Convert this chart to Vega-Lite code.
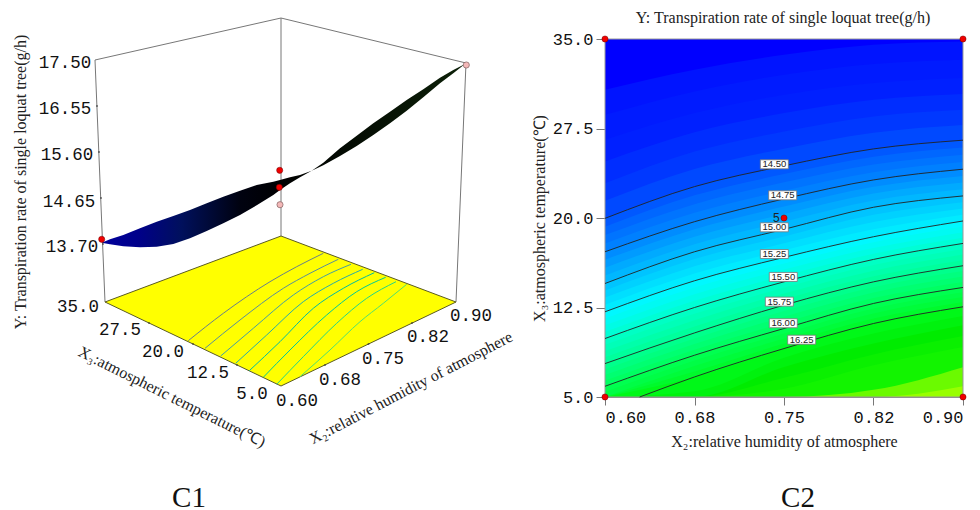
{"$schema":"https://vega.github.io/schema/vega-lite/v6.json","width":980,"height":510,"autosize":{"type":"none"},"padding":0,"background":"white","config":{"view":{"stroke":null}},
"datasets":{"levels":[
{"l":13.5,"x":0.6,"t":35},{"l":13.5,"x":0.675,"t":35},{"l":13.5,"x":0.75,"t":35},{"l":13.5,"x":0.825,"t":35},{"l":13.5,"x":0.9,"t":35},
{"l":13.75,"x":0.6,"t":30.75},{"l":13.75,"x":0.675,"t":32.43},{"l":13.75,"x":0.75,"t":33.68},{"l":13.75,"x":0.825,"t":34.52},{"l":13.75,"x":0.9,"t":34.8},
{"l":13.875,"x":0.6,"t":28.65},{"l":13.875,"x":0.675,"t":30.61},{"l":13.875,"x":0.75,"t":32},{"l":13.875,"x":0.825,"t":32.91},{"l":13.875,"x":0.9,"t":33.27},
{"l":14,"x":0.6,"t":26.55},{"l":14,"x":0.675,"t":28.79},{"l":14,"x":0.75,"t":30.33},{"l":14,"x":0.825,"t":31.31},{"l":14,"x":0.9,"t":31.73},
{"l":14.125,"x":0.6,"t":24.73},{"l":14.125,"x":0.675,"t":27.18},{"l":14.125,"x":0.75,"t":28.79},{"l":14.125,"x":0.825,"t":29.91},{"l":14.125,"x":0.9,"t":30.4},
{"l":14.25,"x":0.6,"t":22.91},{"l":14.25,"x":0.675,"t":25.57},{"l":14.25,"x":0.75,"t":27.25},{"l":14.25,"x":0.825,"t":28.51},{"l":14.25,"x":0.9,"t":29.07},
{"l":14.375,"x":0.6,"t":21.44},{"l":14.375,"x":0.675,"t":24.1},{"l":14.375,"x":0.75,"t":25.81},{"l":14.375,"x":0.825,"t":27.15},{"l":14.375,"x":0.9,"t":27.8},
{"l":14.5,"x":0.6,"t":19.97},{"l":14.5,"x":0.675,"t":22.63},{"l":14.5,"x":0.75,"t":24.37},{"l":14.5,"x":0.825,"t":25.79},{"l":14.5,"x":0.9,"t":26.52},
{"l":14.5625,"x":0.6,"t":19.27},{"l":14.5625,"x":0.675,"t":21.9},{"l":14.5625,"x":0.75,"t":23.68},{"l":14.5625,"x":0.825,"t":25.14},{"l":14.5625,"x":0.9,"t":25.91},
{"l":14.625,"x":0.6,"t":18.57},{"l":14.625,"x":0.675,"t":21.16},{"l":14.625,"x":0.75,"t":22.99},{"l":14.625,"x":0.825,"t":24.49},{"l":14.625,"x":0.9,"t":25.31},
{"l":14.6875,"x":0.6,"t":17.87},{"l":14.6875,"x":0.675,"t":20.43},{"l":14.6875,"x":0.75,"t":22.29},{"l":14.6875,"x":0.825,"t":23.84},{"l":14.6875,"x":0.9,"t":24.7},
{"l":14.75,"x":0.6,"t":17.17},{"l":14.75,"x":0.675,"t":19.69},{"l":14.75,"x":0.75,"t":21.6},{"l":14.75,"x":0.825,"t":23.19},{"l":14.75,"x":0.9,"t":24.09},
{"l":14.8125,"x":0.6,"t":16.51},{"l":14.8125,"x":0.675,"t":19.06},{"l":14.8125,"x":0.75,"t":20.96},{"l":14.8125,"x":0.825,"t":22.62},{"l":14.8125,"x":0.9,"t":23.53},
{"l":14.875,"x":0.6,"t":15.84},{"l":14.875,"x":0.675,"t":18.43},{"l":14.875,"x":0.75,"t":20.33},{"l":14.875,"x":0.825,"t":22.05},{"l":14.875,"x":0.9,"t":22.97},
{"l":14.9375,"x":0.6,"t":15.18},{"l":14.9375,"x":0.675,"t":17.8},{"l":14.9375,"x":0.75,"t":19.69},{"l":14.9375,"x":0.825,"t":21.47},{"l":14.9375,"x":0.9,"t":22.41},
{"l":15,"x":0.6,"t":14.51},{"l":15,"x":0.675,"t":17.17},{"l":15,"x":0.75,"t":19.05},{"l":15,"x":0.825,"t":20.9},{"l":15,"x":0.9,"t":21.85},
{"l":15.0625,"x":0.6,"t":13.92},{"l":15.0625,"x":0.675,"t":16.56},{"l":15.0625,"x":0.75,"t":18.46},{"l":15.0625,"x":0.825,"t":20.28},{"l":15.0625,"x":0.9,"t":21.33},
{"l":15.125,"x":0.6,"t":13.33},{"l":15.125,"x":0.675,"t":15.96},{"l":15.125,"x":0.75,"t":17.88},{"l":15.125,"x":0.825,"t":19.67},{"l":15.125,"x":0.9,"t":20.8},
{"l":15.1875,"x":0.6,"t":12.73},{"l":15.1875,"x":0.675,"t":15.35},{"l":15.1875,"x":0.75,"t":17.29},{"l":15.1875,"x":0.825,"t":19.05},{"l":15.1875,"x":0.9,"t":20.28},
{"l":15.25,"x":0.6,"t":12.14},{"l":15.25,"x":0.675,"t":14.74},{"l":15.25,"x":0.75,"t":16.7},{"l":15.25,"x":0.825,"t":18.43},{"l":15.25,"x":0.9,"t":19.75},
{"l":15.3125,"x":0.6,"t":11.58},{"l":15.3125,"x":0.675,"t":14.18},{"l":15.3125,"x":0.75,"t":16.19},{"l":15.3125,"x":0.825,"t":17.96},{"l":15.3125,"x":0.9,"t":19.28},
{"l":15.375,"x":0.6,"t":11.02},{"l":15.375,"x":0.675,"t":13.62},{"l":15.375,"x":0.75,"t":15.68},{"l":15.375,"x":0.825,"t":17.48},{"l":15.375,"x":0.9,"t":18.81},
{"l":15.4375,"x":0.6,"t":10.46},{"l":15.4375,"x":0.675,"t":13.06},{"l":15.4375,"x":0.75,"t":15.16},{"l":15.4375,"x":0.825,"t":17.01},{"l":15.4375,"x":0.9,"t":18.34},
{"l":15.5,"x":0.6,"t":9.9},{"l":15.5,"x":0.675,"t":12.5},{"l":15.5,"x":0.75,"t":14.65},{"l":15.5,"x":0.825,"t":16.53},{"l":15.5,"x":0.9,"t":17.87},
{"l":15.5625,"x":0.6,"t":9.38},{"l":15.5625,"x":0.675,"t":11.97},{"l":15.5625,"x":0.75,"t":14.16},{"l":15.5625,"x":0.825,"t":16.06},{"l":15.5625,"x":0.9,"t":17.4},
{"l":15.625,"x":0.6,"t":8.85},{"l":15.625,"x":0.675,"t":11.44},{"l":15.625,"x":0.75,"t":13.68},{"l":15.625,"x":0.825,"t":15.59},{"l":15.625,"x":0.9,"t":16.94},
{"l":15.6875,"x":0.6,"t":8.33},{"l":15.6875,"x":0.675,"t":10.9},{"l":15.6875,"x":0.75,"t":13.19},{"l":15.6875,"x":0.825,"t":15.12},{"l":15.6875,"x":0.9,"t":16.47},
{"l":15.75,"x":0.6,"t":7.8},{"l":15.75,"x":0.675,"t":10.37},{"l":15.75,"x":0.75,"t":12.7},{"l":15.75,"x":0.825,"t":14.65},{"l":15.75,"x":0.9,"t":16},
{"l":15.8125,"x":0.6,"t":7.33},{"l":15.8125,"x":0.675,"t":9.9},{"l":15.8125,"x":0.75,"t":12.21},{"l":15.8125,"x":0.825,"t":14.2},{"l":15.8125,"x":0.9,"t":15.55},
{"l":15.875,"x":0.6,"t":6.85},{"l":15.875,"x":0.675,"t":9.44},{"l":15.875,"x":0.75,"t":11.72},{"l":15.875,"x":0.825,"t":13.75},{"l":15.875,"x":0.9,"t":15.09},
{"l":15.9375,"x":0.6,"t":6.38},{"l":15.9375,"x":0.675,"t":8.97},{"l":15.9375,"x":0.75,"t":11.23},{"l":15.9375,"x":0.825,"t":13.29},{"l":15.9375,"x":0.9,"t":14.64},
{"l":16,"x":0.6,"t":5.9},{"l":16,"x":0.675,"t":8.5},{"l":16,"x":0.75,"t":10.74},{"l":16,"x":0.825,"t":12.84},{"l":16,"x":0.9,"t":14.18},
{"l":16.0625,"x":0.6,"t":5.43},{"l":16.0625,"x":0.675,"t":8.05},{"l":16.0625,"x":0.75,"t":10.32},{"l":16.0625,"x":0.825,"t":12.42},{"l":16.0625,"x":0.9,"t":13.78},
{"l":16.125,"x":0.6,"t":4.95},{"l":16.125,"x":0.675,"t":7.59},{"l":16.125,"x":0.75,"t":9.9},{"l":16.125,"x":0.825,"t":12},{"l":16.125,"x":0.9,"t":13.37},
{"l":16.1875,"x":0.6,"t":4.48},{"l":16.1875,"x":0.675,"t":7.14},{"l":16.1875,"x":0.75,"t":9.48},{"l":16.1875,"x":0.825,"t":11.58},{"l":16.1875,"x":0.9,"t":12.97},
{"l":16.25,"x":0.6,"t":4},{"l":16.25,"x":0.675,"t":6.68},{"l":16.25,"x":0.75,"t":9.06},{"l":16.25,"x":0.825,"t":11.16},{"l":16.25,"x":0.9,"t":12.56},
{"l":16.375,"x":0.6,"t":3.5},{"l":16.375,"x":0.675,"t":5.49},{"l":16.375,"x":0.75,"t":8.29},{"l":16.375,"x":0.825,"t":10.32},{"l":16.375,"x":0.9,"t":11.79},
{"l":16.5,"x":0.6,"t":3},{"l":16.5,"x":0.675,"t":4.3},{"l":16.5,"x":0.75,"t":7.52},{"l":16.5,"x":0.825,"t":9.48},{"l":16.5,"x":0.9,"t":11.02},
{"l":16.625,"x":0.6,"t":2.5},{"l":16.625,"x":0.675,"t":3.5},{"l":16.625,"x":0.75,"t":6.61},{"l":16.625,"x":0.825,"t":8.57},{"l":16.625,"x":0.9,"t":10.11},
{"l":16.75,"x":0.6,"t":2},{"l":16.75,"x":0.675,"t":3},{"l":16.75,"x":0.75,"t":5.7},{"l":16.75,"x":0.825,"t":7.66},{"l":16.75,"x":0.9,"t":9.2},
{"l":16.85,"x":0.6,"t":1},{"l":16.85,"x":0.675,"t":2},{"l":16.85,"x":0.75,"t":4},{"l":16.85,"x":0.825,"t":5.6},{"l":16.85,"x":0.9,"t":7.5},
{"l":16.95,"x":0.6,"t":1},{"l":16.95,"x":0.675,"t":1},{"l":16.95,"x":0.75,"t":2},{"l":16.95,"x":0.825,"t":4.3},{"l":16.95,"x":0.9,"t":5.9}
]},
"layer":[
{"encoding":{"x":{"field":"u","type":"quantitative","axis":null,"scale":{"domain":[0,980],"nice":false,"zero":false}},"y":{"field":"v","type":"quantitative","axis":null,"scale":{"domain":[510,0],"nice":false,"zero":false}}},
"layer":[
{"data":{"values":[{"s":"a","u":95,"v":60},{"s":"a","u":281,"v":18},{"s":"a","u":466,"v":63},{"s":"b","u":95,"v":60},{"s":"b","u":105,"v":302},{"s":"c","u":281,"v":18},{"s":"c","u":281,"v":236},{"s":"d","u":466,"v":63},{"s":"d","u":456,"v":302}]},
"mark":{"type":"line","color":"#777","strokeWidth":1},"encoding":{"detail":{"field":"s"},"order":{"field":"i"}}},
{"data":{"values":[{"u":105,"v":302,"b":302},{"u":281,"v":236,"b":386},{"u":456,"v":302,"b":302}]},
"mark":{"type":"area","color":"#ffff00","stroke":"#5a5a20","strokeWidth":1,"line":false},"encoding":{"y2":{"field":"b"}}},
{"data":{"values":[
{"c":14.5,"u":188.3,"v":340.7},{"c":14.5,"u":223.3,"v":313.3},{"c":14.5,"u":270,"v":281.7},{"c":14.5,"u":296.7,"v":266.7},{"c":14.5,"u":323.3,"v":253.3},
{"c":14.75,"u":205,"v":348.3},{"c":14.75,"u":240,"v":320},{"c":14.75,"u":283.3,"v":288.3},{"c":14.75,"u":310,"v":273.3},{"c":14.75,"u":338.3,"v":259.3},
{"c":15,"u":220.7,"v":356},{"c":15,"u":253.3,"v":328.3},{"c":15,"u":293.3,"v":295},{"c":15,"u":323.3,"v":276.7},{"c":15,"u":351,"v":264.3},
{"c":15.25,"u":235.7,"v":363.3},{"c":15.25,"u":266.7,"v":335},{"c":15.25,"u":303.3,"v":301.7},{"c":15.25,"u":333.3,"v":283.3},{"c":15.25,"u":362.7,"v":269.3},
{"c":15.5,"u":249.3,"v":370.7},{"c":15.5,"u":280,"v":341.7},{"c":15.5,"u":313.3,"v":308.3},{"c":15.5,"u":343.3,"v":288.3},{"c":15.5,"u":374.3,"v":272.7},
{"c":15.75,"u":263.3,"v":377.3},{"c":15.75,"u":290,"v":350},{"c":15.75,"u":326.7,"v":315},{"c":15.75,"u":356.7,"v":291.7},{"c":15.75,"u":385.7,"v":277.3},
{"c":16,"u":276.7,"v":384.3},{"c":16,"u":303.3,"v":356.7},{"c":16,"u":336.7,"v":323.3},{"c":16,"u":366.7,"v":298.3},{"c":16,"u":396,"v":281.7},
{"c":16.25,"u":300,"v":376.7},{"c":16.25,"u":330,"v":350},{"c":16.25,"u":360,"v":321.7},{"c":16.25,"u":383.3,"v":303.3},{"c":16.25,"u":406.7,"v":284.3}]},
"mark":{"type":"line","strokeWidth":1,"interpolate":"monotone"},"encoding":{"detail":{"field":"c"},"stroke":{"field":"c","type":"quantitative","legend":null,"scale":{"domain":[14.5,16.25],"range":["#66808a","#4fe070"]}}}},
{"data":{"values":[
{"u":101.7,"v":242.7,"b":242.7},{"u":110,"v":239.3,"b":244.3},{"u":123.3,"v":235,"b":246.3},{"u":140,"v":228.3,"b":247.3},{"u":156.7,"v":221.7,"b":246.7},{"u":173.3,"v":216,"b":244},{"u":190,"v":210,"b":238.3},{"u":206.7,"v":203.3,"b":231},{"u":223.3,"v":196.7,"b":223.3},{"u":240,"v":190.7,"b":215},{"u":256.7,"v":185,"b":205.3},{"u":273.3,"v":181.7,"b":195},{"u":280,"v":180,"b":190},{"u":290,"v":177.3,"b":183.3},{"u":300,"v":175,"b":177.3},{"u":311.7,"v":170.7,"b":170.7},{"u":323.3,"v":162.7,"b":165.3},{"u":340,"v":148.3,"b":156},{"u":356.7,"v":135.7,"b":146},{"u":373.3,"v":123.3,"b":135},{"u":390,"v":111.7,"b":123.3},{"u":406.7,"v":100,"b":110.7},{"u":423.3,"v":89.3,"b":97.3},{"u":440,"v":77.7,"b":83.3},{"u":453.3,"v":70,"b":73.3},{"u":465,"v":64,"b":64}]},
"mark":{"type":"area","color":{"gradient":"linear","x1":0,"x2":1,"y1":0,"y2":0,"stops":[{"offset":0,"color":"#00009c"},{"offset":0.1,"color":"#00008a"},{"offset":0.22,"color":"#00105c"},{"offset":0.38,"color":"#000210"},{"offset":0.5,"color":"#000000"},{"offset":1,"color":"#0c2008"}]}},"encoding":{"y2":{"field":"b"}}},
{"data":{"values":[{"u":149,"v":323},{"u":193,"v":344},{"u":237,"v":365},{"u":325,"v":365},{"u":368.5,"v":344},{"u":412,"v":323},{"u":97,"v":106},{"u":99,"v":152},{"u":101,"v":198},{"u":103,"v":244}]},
"mark":{"type":"point","filled":true,"size":4,"color":"#333"}},
{"data":{"values":[{"u":279.7,"v":170.3,"k":"design point"},{"u":279.3,"v":187.3,"k":"design point"},{"u":101.7,"v":239.3,"k":"design point"}]},
"mark":{"type":"point","filled":true,"size":38,"color":"#f00000","stroke":"#6a0000","strokeWidth":0.5,"opacity":1}},
{"data":{"values":[{"u":280,"v":204.7},{"u":466.3,"v":65}]},
"mark":{"type":"point","filled":true,"size":38,"fill":"#f4b8b8","stroke":"#806060","strokeWidth":0.7,"opacity":1}},
{"data":{"values":[{"u":65,"v":63,"t":"17.50"},{"u":65,"v":109,"t":"16.55"},{"u":67,"v":155,"t":"15.60"},{"u":69,"v":202,"t":"14.65"},{"u":72,"v":247,"t":"13.70"},{"u":78,"v":307,"t":"35.0"},{"u":120,"v":330,"t":"27.5"},{"u":163,"v":352,"t":"20.0"},{"u":208,"v":373,"t":"12.5"},{"u":252,"v":394,"t":"5.0"},{"u":297,"v":401,"t":"0.60"},{"u":340,"v":380,"t":"0.68"},{"u":383,"v":359,"t":"0.75"},{"u":428,"v":337,"t":"0.82"},{"u":471,"v":316,"t":"0.90"}]},
"mark":{"type":"text","font":"Liberation Mono","fontSize":17.5,"color":"#111","baseline":"middle","align":"center"},"encoding":{"text":{"field":"t"}}},
{"data":{"values":[{"u":21,"v":182,"t":"Y: Transpiration rate of single loquat tree(g/h)"}]},
"mark":{"type":"text","font":"Liberation Serif","fontSize":16,"angle":270,"color":"#222","baseline":"middle","align":"center"},"encoding":{"text":{"field":"t"}}},
{"data":{"values":[{"u":172,"v":397,"t":"X₃:atmospheric temperature(℃)"}]},
"mark":{"type":"text","font":"Liberation Serif","fontSize":16,"angle":26.5,"color":"#222","baseline":"middle","align":"center"},"encoding":{"text":{"field":"t"}}},
{"data":{"values":[{"u":411,"v":388,"t":"X₂:relative humidity of atmosphere"}]},
"mark":{"type":"text","font":"Liberation Serif","fontSize":16,"angle":332.6,"color":"#222","baseline":"middle","align":"center"},"encoding":{"text":{"field":"t"}}},
{"data":{"values":[{"u":189,"v":498,"t":"C1"},{"u":798,"v":498,"t":"C2"}]},
"mark":{"type":"text","font":"Liberation Serif","fontSize":29,"color":"#111","baseline":"middle","align":"center"},"encoding":{"text":{"field":"t"}}},
{"data":{"values":[{"u":783,"v":18,"t":"Y: Transpiration rate of single loquat tree(g/h)"}]},
"mark":{"type":"text","font":"Liberation Serif","fontSize":16,"color":"#222","baseline":"middle","align":"center"},"encoding":{"text":{"field":"t"}}}
]},
{"encoding":{"x":{"field":"x","type":"quantitative","scale":{"domain":[0.6,0.9],"range":[605,963],"nice":false,"zero":false}},"y":{"field":"t","type":"quantitative","scale":{"domain":[5,35],"range":[397,39],"nice":false,"zero":false,"clamp":true}}},
"layer":[
{"data":{"name":"levels"},
"mark":{"type":"area","interpolate":"monotone"},
"encoding":{
"x":{"field":"x","type":"quantitative","title":"X₂:relative humidity of atmosphere","scale":{"domain":[0.6,0.9],"range":[605,963],"nice":false,"zero":false},"axis":{"orient":"bottom","offset":-113,"values":[0.6,0.675,0.75,0.825,0.9],"format":".2f","grid":false,"labelFont":"Liberation Mono","labelFontSize":17,"labelColor":"#111","labelPadding":4,"tickSize":8,"tickColor":"#777","domainColor":"#888","titleFont":"Liberation Serif","titleFontSize":16,"titleFontWeight":"normal","titleColor":"#222","titlePadding":8}},
"y":{"field":"t","type":"quantitative","title":"X₃:atmospheric temperature(℃)","scale":{"domain":[5,35],"range":[397,39],"nice":false,"zero":false,"clamp":true},"axis":{"orient":"left","offset":-605,"values":[5,12.5,20,27.5,35],"format":".1f","grid":false,"labelFont":"Liberation Mono","labelFontSize":17,"labelColor":"#111","labelPadding":3,"tickSize":9,"tickColor":"#777","domainColor":"#888","titleFont":"Liberation Serif","titleFontSize":16,"titleFontWeight":"normal","titleColor":"#222","titlePadding":5}},
"y2":{"datum":5},
"detail":{"field":"l"},
"color":{"field":"l","type":"quantitative","legend":null,"scale":{"domain":[13.5,14,14.25,14.5,14.75,15,15.25,15.5,15.75,16,16.25,16.5,16.75,16.95],"range":["#0000ff","#0020ff","#0038ff","#0058ff","#008cff","#00c4ff","#00f8ff","#00ffc4","#00ff8c","#00ff50","#00f818","#00ec00","#12f400","#98ff00"]}}}},
{"data":{"values":[{"x":0.6,"t":5},{"x":0.6,"t":35},{"x":0.9,"t":35},{"x":0.9,"t":5},{"x":0.6,"t":5}]},"transform":[{"window":[{"op":"row_number","as":"i"}]}],
"mark":{"type":"line","color":"#999","strokeWidth":1},"encoding":{"order":{"field":"i","type":"quantitative"}}},
{"data":{"name":"levels"},"transform":[{"filter":{"field":"l","oneOf":[14.5,14.75,15,15.25,15.5,15.75,16]}}],
"mark":{"type":"line","color":"#222","strokeWidth":0.9,"interpolate":"monotone"},"encoding":{"detail":{"field":"l"}}},
{"data":{"values":[{"x":0.629,"t":5},{"x":0.675,"t":6.68},{"x":0.75,"t":9.06},{"x":0.825,"t":11.16},{"x":0.9,"t":12.56}]},
"mark":{"type":"line","color":"#222","strokeWidth":0.9,"interpolate":"monotone"}},
{"data":{"values":[{"x":0.7419,"t":24.5,"n":"14.50"},{"x":0.7489,"t":21.9,"n":"14.75"},{"x":0.7419,"t":19.22,"n":"15.00"},{"x":0.7419,"t":16.98,"n":"15.25"},{"x":0.7494,"t":15.06,"n":"15.50"},{"x":0.7461,"t":12.99,"n":"15.75"},{"x":0.7494,"t":11.18,"n":"16.00"},{"x":0.7648,"t":9.8,"n":"16.25"}]},
"layer":[
{"mark":{"type":"rect","width":28,"height":9,"fill":"white","stroke":"#777","strokeWidth":0.8}},
{"mark":{"type":"text","font":"Liberation Sans","fontSize":9.5,"color":"#222","baseline":"middle","align":"center"},"encoding":{"text":{"field":"n"}}}
]},
{"data":{"values":[{"x":0.7435,"t":20,"n":"5"}]},"mark":{"type":"text","font":"Liberation Mono","fontSize":12,"color":"#222","baseline":"middle","align":"center"},"encoding":{"text":{"field":"n"}}},
{"data":{"values":[{"x":0.6,"t":35},{"x":0.9,"t":35},{"x":0.6,"t":5},{"x":0.9,"t":5},{"x":0.75,"t":20}]},
"mark":{"type":"point","filled":true,"size":38,"color":"#f00000","stroke":"#700000","strokeWidth":0.5,"opacity":1}}
]}
],
"resolve":{"scale":{"x":"independent","y":"independent"},"axis":{"x":"independent","y":"independent"}}}
